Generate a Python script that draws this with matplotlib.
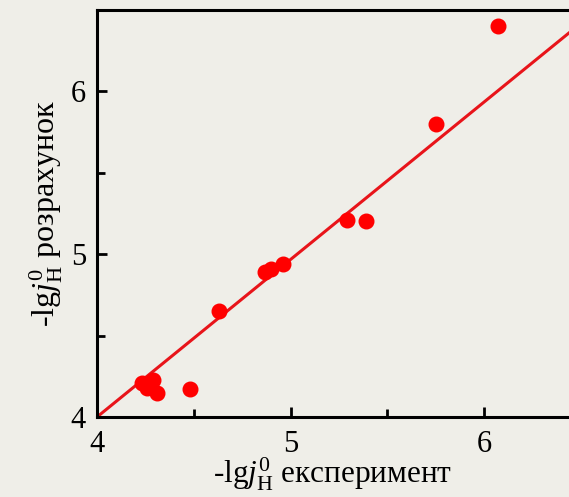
import matplotlib
matplotlib.use("Agg")
import matplotlib.pyplot as plt
from matplotlib.ticker import MultipleLocator

plt.rcParams['font.family'] = ['Liberation Serif', 'DejaVu Serif']
plt.rcParams['mathtext.fontset'] = 'custom'
plt.rcParams['mathtext.rm'] = 'Liberation Serif'
plt.rcParams['mathtext.it'] = 'Liberation Serif:italic'

# data
experiment = [4.23, 4.29, 4.31, 4.26, 4.48, 4.63, 4.87, 4.90, 4.96, 5.29, 5.39, 5.75, 6.07]
calculated = [4.21, 4.23, 4.15, 4.18, 4.17, 4.65, 4.89, 4.91, 4.94, 5.21, 5.20, 5.80, 6.40]
fit_x = [4.0, 6.5]
fit_y = [4.0, 6.415]

bg = '#efeee8'
fig = plt.figure(figsize=(5.69, 4.97), dpi=100, facecolor=bg)
ax = fig.add_axes([97/569, 1-417/497, 1-97/569, (417-10)/497])
ax.set_facecolor(bg)

ax.plot(fit_x, fit_y, color='#e8141a', lw=2.2, zorder=2)
ax.plot(experiment, calculated, 'o', color='#ff0000', ms=10.5, mec='#ff0000', zorder=3)

ax.set_xlim(4, 4 + 472/193.5)
ax.set_ylim(4, 4 + 407/163)
ax.xaxis.set_major_locator(MultipleLocator(1))
ax.xaxis.set_minor_locator(MultipleLocator(0.5))
ax.yaxis.set_major_locator(MultipleLocator(1))
ax.yaxis.set_minor_locator(MultipleLocator(0.5))
ax.tick_params(which='both', direction='in', width=2, labelsize=22,
               top=False, right=False)
ax.tick_params(axis='x', pad=9)
ax.tick_params(axis='y', pad=8)
ax.tick_params(which='major', length=7)
ax.tick_params(which='minor', length=6)
for s in ['left', 'bottom', 'top']:
    ax.spines[s].set_linewidth(2.2)
ax.spines['right'].set_visible(False)

ax.set_xlabel(r'-lg$\mathit{j}_{\mathrm{H}}^{0}$ експеримент', fontsize=22.5, labelpad=-2)
ax.set_ylabel(r'-lg$\mathit{j}_{\mathrm{H}}^{0}$ розрахунок', fontsize=23, labelpad=4)

fig.savefig('out.png', dpi=100, facecolor=bg)
